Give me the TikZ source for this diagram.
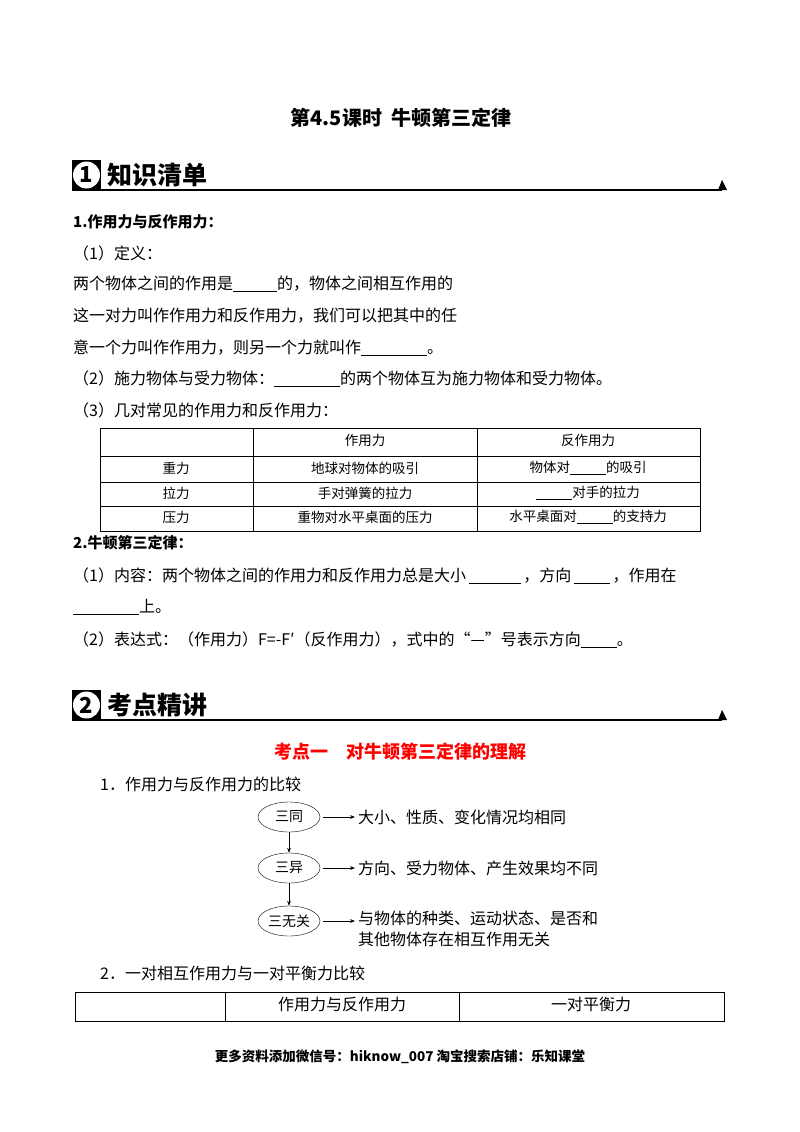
\documentclass[tikz,border=0pt]{standalone}
\usepackage{fontspec}
\setmainfont{Noto Sans CJK SC}
\usetikzlibrary{shapes.geometric,arrows.meta}
\tikzset{
 body/.style={anchor=west,inner sep=0,font=\fontsize{16}{19}\selectfont},
 cell/.style={inner sep=0,font=\fontsize{13.5}{15}\selectfont},
 head/.style={anchor=west,inner sep=0,font=\bfseries\fontsize{15}{17}\selectfont},
 oval/.style={ellipse,draw,minimum width=62pt,minimum height=30pt,inner sep=0,font=\fontsize{14}{16}\selectfont},
 arr/.style={-{Stealth[length=5pt]},line width=0.6pt}
}
\newcommand{\ul}[1]{\rule[-2pt]{#1pt}{0.6pt}}
\begin{document}
\begin{tikzpicture}[x=1pt,y=-1pt]
\useasboundingbox[fill=white] (0,0) rectangle (800,1132);
\node[inner sep=0,font=\bfseries\fontsize{20}{22}\selectfont] (title) at (401,118) {第4.5课时\ \ 牛顿第三定律};
% section 1
\fill (72,160) rectangle (101,191);
\node[circle,fill=white,inner sep=0,minimum size=27pt,font=\bfseries\fontsize{22}{22}\selectfont] (n1) at (86.5,175) {1};
\node[anchor=west,inner sep=0,font=\bfseries\fontsize{25}{26}\selectfont] (s1) at (107,175) {知识清单};
\draw[line width=1.2pt] (101,190) -- (722,190);
\fill (718,190) -- (722,180) -- (727,190) -- cycle;
\node[head] (h1) at (73,222) {1.作用力与反作用力：};
\node[body] (l1) at (73,253) {（1）定义：};
\node[body] (l2) at (73,284) {两个物体之间的作用是\ul{44}的，物体之间相互作用的};
\node[body] (l3) at (73,316) {这一对力叫作作用力和反作用力，我们可以把其中的任};
\node[body] (l4) at (73,348) {意一个力叫作作用力，则另一个力就叫作\ul{66}。};
\node[body] (l5) at (73,379) {（2）施力物体与受力物体：\ul{66}的两个物体互为施力物体和受力物体。};
\node[body] (l6) at (73,410) {（3）几对常见的作用力和反作用力：};
% table 1
\draw[line width=0.6pt] (100,428) rectangle (700,531);
\foreach \y in {456,482,506} \draw[line width=0.6pt] (100,\y) -- (700,\y);
\foreach \x in {253,477} \draw[line width=0.6pt] (\x,428) -- (\x,531);
\node[cell] (t01) at (365,440) {作用力};
\node[cell] (t02) at (588,440) {反作用力};
\node[cell] (t10) at (176,468) {重力};
\node[cell] (t11) at (365,468) {地球对物体的吸引};
\node[cell] (t12) at (588,468) {物体对\ul{36}的吸引};
\node[cell] (t20) at (176,493) {拉力};
\node[cell] (t21) at (365,493) {手对弹簧的拉力};
\node[cell] (t22) at (588,493) {\ul{36}对手的拉力};
\node[cell] (t30) at (176,517) {压力};
\node[cell] (t31) at (365,517) {重物对水平桌面的压力};
\node[cell] (t32) at (588,517) {水平桌面对\ul{36}的支持力};
\node[head] (h2) at (73,543) {2.牛顿第三定律：};
\node[body] (m1) at (73,576) {（1）内容：两个物体之间的作用力和反作用力总是大小\,\rule[-2pt]{52pt}{1.2pt}\,，方向\,\ul{36}\,，作用在};
\node[body] (m2) at (73,607) {\ul{66}上。};
\node[body] (m3) at (73,640) {（2）表达式：（作用力）F=-F′（反作用力），式中的“—”号表示方向\ul{36}。};
% section 2
\fill (72,690) rectangle (101,721);
\node[circle,fill=white,inner sep=0,minimum size=27pt,font=\bfseries\fontsize{22}{22}\selectfont] (n2) at (86.5,705) {2};
\node[anchor=west,inner sep=0,font=\bfseries\fontsize{25}{26}\selectfont] (s2) at (107,705) {考点精讲};
\draw[line width=1.2pt] (101,720) -- (722,720);
\fill (718,720) -- (722,710) -- (727,720) -- cycle;
\node[inner sep=0,text=red,font=\bfseries\fontsize{18}{19}\selectfont] (k1) at (400,752) {考点一\quad 对牛顿第三定律的理解};
\node[body] (c1) at (100,784) {1．作用力与反作用力的比较};
\node[oval] (o1) at (289,817) {三同};
\node[oval] (o2) at (289,868) {三异};
\node[oval] (o3) at (289,921) {三无关};
\node[body] (r1) at (358,817) {大小、性质、变化情况均相同};
\node[body] (r2) at (358,868) {方向、受力物体、产生效果均不同};
\node[anchor=west,inner sep=0,align=left,font=\fontsize{16}{21}\selectfont] (r3) at (358,929) {与物体的种类、运动状态、是否和\\其他物体存在相互作用无关};
\draw[arr,shorten >=3pt,shorten <=3pt] (o1) -- (r1);
\draw[arr,shorten >=3pt,shorten <=3pt] (o2) -- (r2);
\draw[arr,shorten <=3pt] (o3.east) -- (355,921);
\draw[arr] (o1) -- (o2);
\draw[arr] (o2) -- (o3);
\node[body] (c2) at (100,973) {2．一对相互作用力与一对平衡力比较};
\draw[line width=0.6pt] (75,992) rectangle (724,1021);
\foreach \x in {225,459} \draw[line width=0.6pt] (\x,992) -- (\x,1021);
\node[cell,font=\fontsize{16}{17}\selectfont] (u1) at (342,1004) {作用力与反作用力};
\node[cell,font=\fontsize{16}{17}\selectfont] (u2) at (591,1004) {一对平衡力};
\node[inner sep=0,font=\bfseries\fontsize{13.5}{15}\selectfont] (foot) at (400,1057) {更多资料添加微信号：hiknow\_007 淘宝搜索店铺：乐知课堂};
\end{tikzpicture}
\end{document}
